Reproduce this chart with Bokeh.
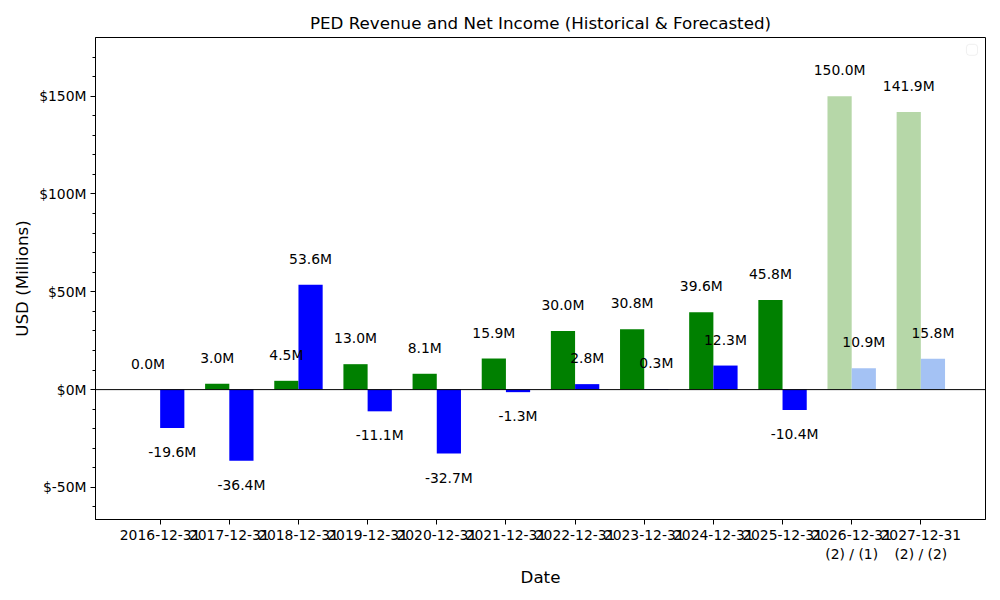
from bokeh.plotting import figure
from bokeh.models import ColumnDataSource, Range1d, FixedTicker, Span, BoxAnnotation
from bokeh.transform import dodge
from bokeh.core.properties import value
from bokeh.embed import file_html
from bokeh.resources import INLINE

dates = ["2016-12-31", "2017-12-31", "2018-12-31", "2019-12-31", "2020-12-31",
         "2021-12-31", "2022-12-31", "2023-12-31", "2024-12-31", "2025-12-31",
         "2026-12-31\n(2) / (1)", "2027-12-31\n(2) / (2)"]
revenue = [0.0, 3.0, 4.5, 13.0, 8.1, 15.9, 30.0, 30.8, 39.6, 45.8, 150.0, 141.9]
net_income = [-19.6, -36.4, 53.6, -11.1, -32.7, -1.3, 2.8, 0.3, 12.3, -10.4, 10.9, 15.8]
is_forecast = [False] * 10 + [True] * 2
y_ticks = [-50, 0, 50, 100, 150]
y_tick_labels = ["$-50M", "$0M", "$50M", "$100M", "$150M"]

FONT = "DejaVu Sans"
idx = list(range(len(dates)))
W = 0.35

src = ColumnDataSource(dict(
    x=idx,
    rev=revenue,
    net=net_income,
    rev_color=["#b6d7a8" if f else "green" for f in is_forecast],
    net_color=["#a4c2f4" if f else "blue" for f in is_forecast],
    rev_lab=[f"{v:.1f}M" for v in revenue],
    net_lab=[f"{v:.1f}M" for v in net_income],
    rev_off=[-26 if v >= 0 else 24 for v in revenue],
    net_off=[-26 if v >= 0 else 24 for v in net_income],
))

p = figure(width=1000, height=600, output_backend="svg", toolbar_location=None,
           x_range=Range1d(-0.935, len(dates) - 1 + 0.935),
           y_range=Range1d(min(net_income) - 30, max(revenue) + 30),
           min_border_left=95, min_border_right=15, min_border_top=37, min_border_bottom=81,
           title="PED Revenue and Net Income (Historical & Forecasted)")

p.title.align = "center"
p.title.text_font = FONT
p.title.text_font_size = "16.7px"
p.title.text_font_style = "normal"
p.title.text_color = "black"

p.vbar(x=dodge("x", -W / 2), top="rev", width=W, source=src, fill_color="rev_color", line_color=None)
p.vbar(x=dodge("x", W / 2), top="net", width=W, source=src, fill_color="net_color", line_color=None)

p.add_layout(Span(location=0, dimension="width", line_color="black", line_width=1))

p.text(x=dodge("x", -W / 2), y="rev", text="rev_lab", y_offset="rev_off", source=src,
       text_align="center", text_baseline="middle", text_font=value(FONT),
       text_font_size="13.9px", text_color="black")
p.text(x=dodge("x", W / 2), y="net", text="net_lab", y_offset="net_off", source=src,
       text_align="center", text_baseline="middle", text_font=value(FONT),
       text_font_size="13.9px", text_color="black")

# empty legend frame (as in the original)
p.add_layout(BoxAnnotation(left=11.66, right=11.82, top=176.5, bottom=170.9,
                           fill_color="white", fill_alpha=1, line_color="#cccccc",
                           line_width=1, border_radius=3))

p.grid.visible = False
p.outline_line_color = "black"
p.outline_line_alpha = 1
p.outline_line_width = 1

p.xaxis.ticker = FixedTicker(ticks=idx)
p.xaxis.major_label_overrides = {i: d for i, d in zip(idx, dates)}
p.yaxis.ticker = FixedTicker(ticks=y_ticks, minor_ticks=list(range(-60, 180, 10)))
p.yaxis.major_label_overrides = {t: l for t, l in zip(y_ticks, y_tick_labels)}

p.xaxis.axis_label = "Date"
p.yaxis.axis_label = "USD (Millions)"
for ax in (p.xaxis, p.yaxis):
    ax.axis_label_text_font = FONT
    ax.axis_label_text_font_size = "16.7px"
    ax.axis_label_text_font_style = "normal"
    ax.axis_label_text_color = "black"
    ax.major_label_text_font = FONT
    ax.major_label_text_font_size = "13.9px"
    ax.major_label_text_color = "black"
    ax.major_tick_out = 5
    ax.major_tick_in = 0
    ax.minor_tick_out = 3
    ax.minor_tick_in = 0
    ax.axis_line_color = "black"
    ax.major_tick_line_color = "black"
    ax.minor_tick_line_color = "black"
p.xaxis.minor_tick_line_color = None
p.xaxis.major_label_standoff = 2
p.xaxis.axis_label_standoff = 2
p.yaxis.major_label_standoff = 4
p.yaxis.axis_label_standoff = 4

open("out.html", "w").write(file_html(p, INLINE))
